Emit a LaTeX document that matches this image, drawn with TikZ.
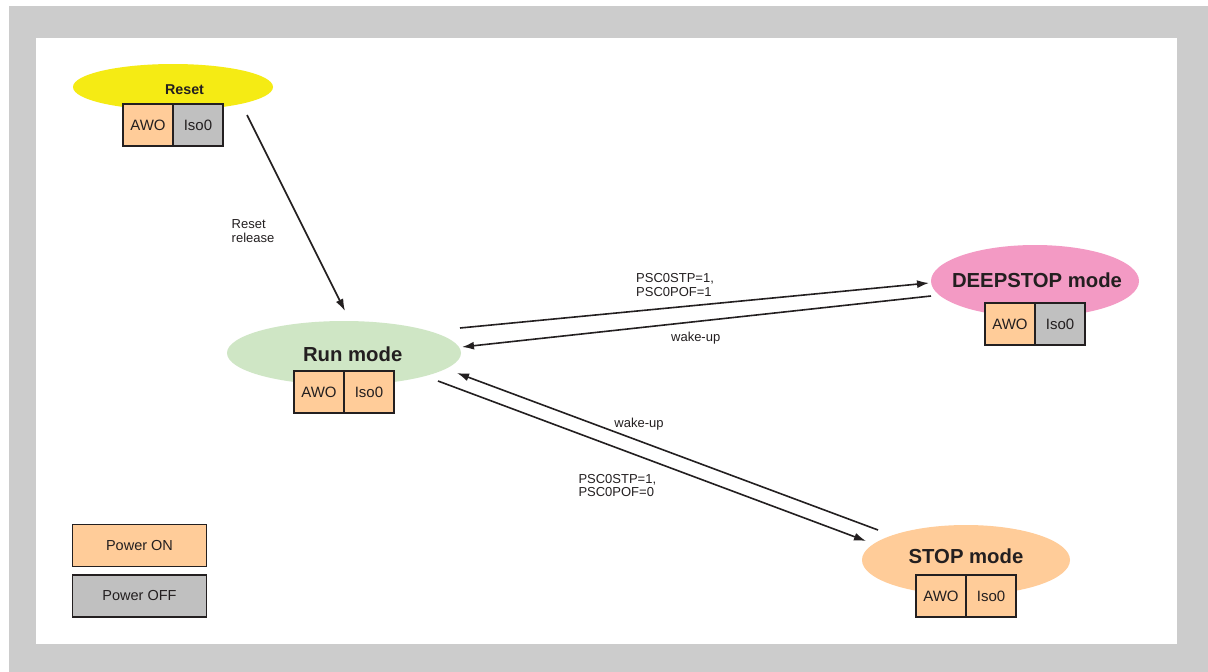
\documentclass[tikz,border=0pt]{standalone}
\usepackage{fontspec}
\setmainfont{Liberation Sans}
\usetikzlibrary{arrows.meta,shapes.geometric}

\definecolor{frame}{HTML}{CCCCCC}
\definecolor{rstcol}{HTML}{F5EB14}
\definecolor{runcol}{HTML}{CFE6C5}
\definecolor{deepcol}{HTML}{F39AC4}
\definecolor{pwron}{HTML}{FFCC99}
\definecolor{pwroff}{HTML}{C0C0C0}
\definecolor{ink}{HTML}{231F20}

\begin{document}
\begin{tikzpicture}[x=1pt,y=-1pt,
  mode/.style={ellipse,draw=none,inner sep=0pt,outer sep=0pt},
  modetxt/.style={font=\bfseries\fontsize{20.3}{22}\selectfont,text=ink,anchor=base,inner sep=0pt},
  pbox/.style={draw=ink,line width=1.4pt,minimum width=50pt,minimum height=42pt,inner sep=0pt,outer sep=0pt,font=\fontsize{15}{17}\selectfont,text=ink},
  cond/.style={font=\fontsize{13}{13.5}\selectfont,align=left,inner sep=0pt,text=ink},
  trans/.style={draw=ink,line width=1.6pt,-{Latex[length=12pt,width=8pt]}}]
\useasboundingbox (0,0) rectangle (1208,672);
% frame round the drawing area
\fill[frame] (9,6) rectangle (1208,672);
\fill[white] (36,38) rectangle (1177,644);

% power modes
\node[mode,fill=rstcol,minimum width=200pt,minimum height=46pt] (reset) at (173,87) {};
\node[mode,fill=runcol,minimum width=234pt,minimum height=64pt] (run) at (344,353) {};
\node[mode,fill=deepcol,minimum width=208pt,minimum height=72pt] (deep) at (1035,281) {};
\node[mode,fill=pwron,minimum width=208pt,minimum height=70pt] (stop) at (966,560) {};

\node[modetxt,font=\bfseries\fontsize{14.3}{16}\selectfont] (resettxt) at (184.5,94) {Reset};
\node[modetxt] (runtxt) at (352.7,361.7) {Run mode};
\node[modetxt] (deeptxt) at (1037,287.7) {DEEPSTOP mode};
\node[modetxt] (stoptxt) at (966,563) {STOP mode};

% AWO / Iso0 state under each mode
\foreach \m/\dy/\c in {reset/17/pwroff, run/18/pwron, deep/22/pwroff, stop/15/pwron}{
  \node[pbox,fill=pwron,anchor=north east] (\m-awo) at ([yshift=-\dy pt]\m.center) {AWO};
  \node[pbox,fill=\c,anchor=north west] (\m-iso) at ([yshift=-\dy pt]\m.center) {Iso0};
}

% transitions
\draw[trans] ([shift={(74,28)}]reset.center) -- ([shift={(1,-42)}]run.center);
\draw[trans] ([shift={(116,-25)}]run.center) -- ([shift={(-106,2)}]deep.center);
\draw[trans] ([shift={(-104,15)}]deep.center) -- ([shift={(118,-6)}]run.center);
\draw[trans] ([shift={(-88,-30)}]stop.center) -- ([shift={(113,20)}]run.center);
\draw[trans] ([shift={(94,28)}]run.center) -- ([shift={(-100,-19)}]stop.center);

\node[cond,anchor=north west] (rel) at (231.5,219.5) {Reset\\release};
\node[cond,anchor=north west] (todeep) at (636,273.3) {PSC0STP=1,\\PSC0POF=1};
\node[cond] (wakedeep) at (695.7,338) {wake-up};
\node[cond] (wakestop) at (639,424) {wake-up};
\node[cond,anchor=north west] (tostop) at (578.3,474) {PSC0STP=1,\\PSC0POF=0};

% legend
\node[pbox,fill=pwron,minimum width=134pt,font=\fontsize{14.5}{16}\selectfont] (legon) at (139.5,545.5) {Power ON};
\node[pbox,fill=pwroff,minimum width=134pt,font=\fontsize{14.5}{16}\selectfont] (legoff) at (139.5,596) {Power OFF};
\end{tikzpicture}
\end{document}
